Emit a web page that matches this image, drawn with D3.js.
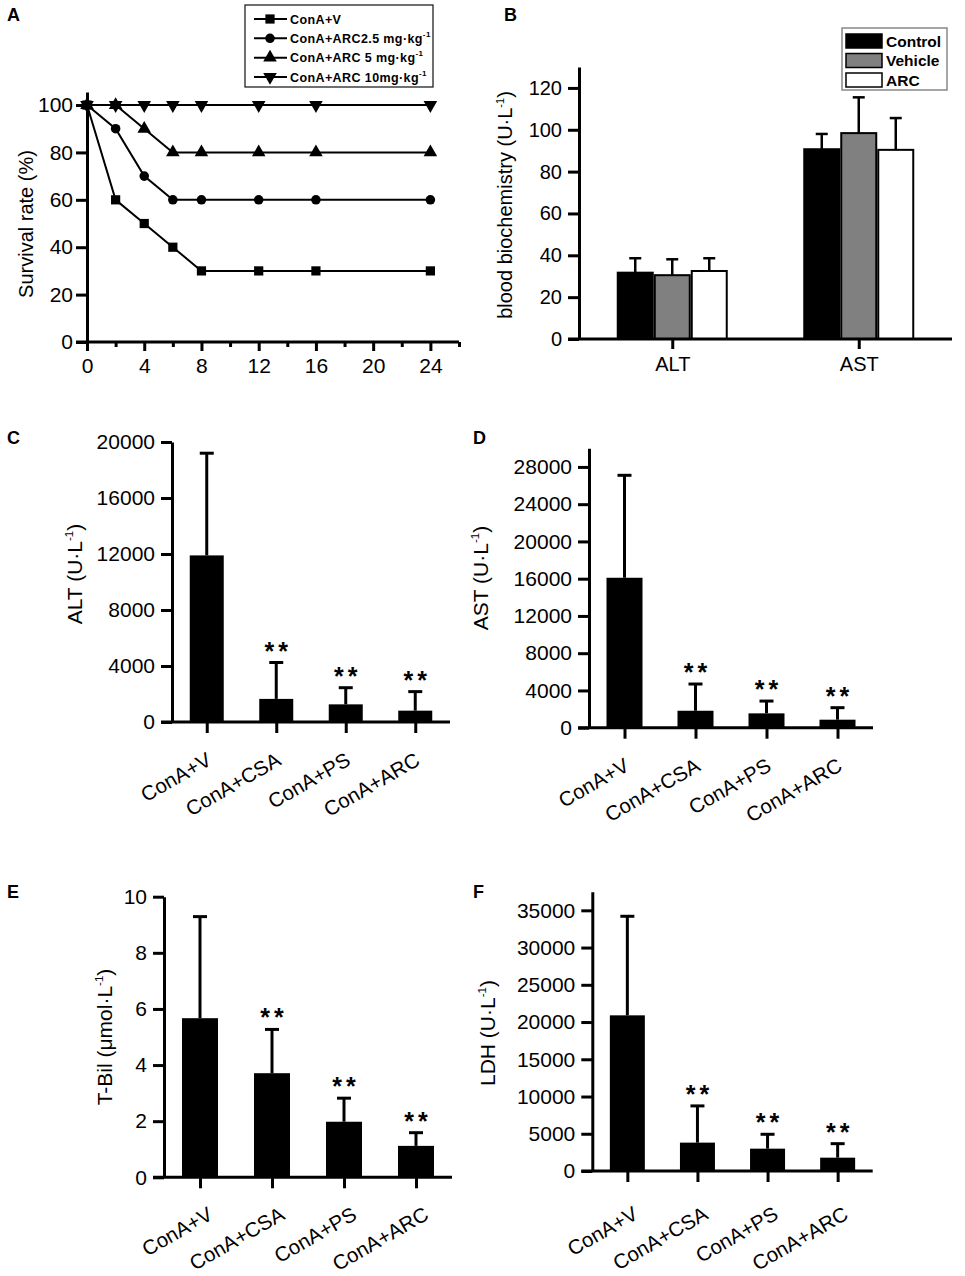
<!DOCTYPE html>
<html>
<head>
<meta charset="utf-8">
<script src="https://cdn.jsdelivr.net/npm/d3@7"></script>
<style>
  body { margin: 0; background: #fff; }
  svg text { font-family: "Liberation Sans", Arial, sans-serif; fill: #000; }
  .axis path, .axis line { stroke: #000; stroke-width: 3px; }
</style>
</head>
<body>
<svg id="fig" width="965" height="1276"></svg>
<script>
// ---- panel A: survival after ConA ----
var hours = [0, 2, 4, 6, 8, 12, 16, 24];
var survV = [100, 60, 50, 40, 30, 30, 30, 30];
var surv25 = [100, 90, 70, 60, 60, 60, 60, 60];
var surv5 = [100, 100, 90, 80, 80, 80, 80, 80];
var surv10 = [100, 100, 100, 100, 100, 100, 100, 100];
var survNames = ["ConA+V", "ConA+ARC2.5 mg·kg", "ConA+ARC 5 mg·kg", "ConA+ARC 10mg·kg"];
var survTicks = [0, 20, 40, 60, 80, 100];
var hourTicks = [0, 4, 8, 12, 16, 20, 24];
var hourMinor = [2, 6, 10, 14, 18, 22, 26];

// ---- panel B: normal mice ----
var bioCats = ["ALT", "AST"];
var bioGroups = ["Control", "Vehicle", "ARC"];
var controlMean = [31.7, 90.7], controlSD = [6.9, 7.3];
var vehicleMean = [30.5, 98.4], vehicleSD = [7.6, 17.1];
var arcMean = [32.5, 90.4], arcSD = [6.1, 15.2];
var bioTicks = [0, 20, 40, 60, 80, 100, 120];

// ---- panels C-F ----
var treatments = ["ConA+V", "ConA+CSA", "ConA+PS", "ConA+ARC"];
var altMean = [11900, 1650, 1260, 810], altSD = [7300, 2600, 1190, 1360];
var altTicks = [0, 4000, 8000, 12000, 16000, 20000];
var astMean = [16100, 1820, 1540, 860], astSD = [11000, 2870, 1320, 1290];
var astTicks = [0, 4000, 8000, 12000, 16000, 20000, 24000, 28000];
var tbilMean = [5.67, 3.71, 1.98, 1.12], tbilSD = [3.62, 1.56, 0.84, 0.47];
var tbilTicks = [0, 2, 4, 6, 8, 10];
var ldhMean = [20900, 3810, 3000, 1790], ldhSD = [13300, 4930, 1930, 1880];
var ldhTicks = [0, 5000, 10000, 15000, 20000, 25000, 30000, 35000];

var svg = d3.select("#fig");
var plain = d3.format("d");

function letter(t, x, y) {
    svg.append("text").attr("x", x).attr("y", y)
        .attr("font-size", 18).attr("font-weight", "bold").text(t);
}

// rotated axis title with "-1" superscript
function yTitle(x, y, size, main, sup) {
    var t = svg.append("text")
        .attr("transform", "translate(" + x + "," + y + ") rotate(-90)")
        .attr("text-anchor", "middle").attr("font-size", size);
    t.append("tspan").text(main);
    if (sup) {
        t.append("tspan").attr("font-size", size * 0.55).attr("dy", -size * 0.42).text(sup);
        t.append("tspan").attr("dy", size * 0.42).text(")");
    }
}

function styleAxis(g, size) {
    g.attr("class", "axis").attr("font-size", size).attr("font-family", null);
    g.selectAll("text").attr("fill", "#000");
}

// ================= A =================
(function() {
    var x = d3.scaleLinear().domain([0, 26]).range([87, 459]);
    var y = d3.scaleLinear().domain([0, 105.5]).range([342, 92]);
    var g = svg.append("g");

    g.append("line").attr("x1", 76).attr("x2", 459).attr("y1", y(0)).attr("y2", y(0))
        .attr("stroke", "#000").attr("stroke-width", 3);
    var ya = g.append("g").attr("transform", "translate(" + x(0) + ",0)")
        .call(d3.axisLeft(y).tickValues(survTicks).tickSize(11).tickSizeOuter(0).tickPadding(3));
    styleAxis(ya, 21);
    var xa = g.append("g").attr("transform", "translate(0," + y(0) + ")")
        .call(d3.axisBottom(x).tickValues(hourTicks).tickSize(9).tickPadding(7));
    xa.select(".domain").remove();
    styleAxis(xa, 21);
    var xm = g.append("g").attr("transform", "translate(0," + y(0) + ")")
        .call(d3.axisBottom(x).tickValues(hourMinor).tickSize(5).tickFormat(""));
    xm.select(".domain").remove();
    styleAxis(xm, 21);

    var series = [survV, surv25, surv5, surv10];
    var shapes = [
        d3.symbol().type(d3.symbolSquare).size(85),
        d3.symbol().type(d3.symbolCircle).size(72),
        d3.symbol().type(d3.symbolTriangle).size(80),
        d3.symbol().type(d3.symbolTriangle).size(80)
    ];
    var line = d3.line().x(function(d, i) { return x(hours[i]); }).y(function(d) { return y(d); });

    series.forEach(function(s, k) {
        g.append("path").datum(s).attr("d", line)
            .attr("fill", "none").attr("stroke", "#000").attr("stroke-width", 2);
        g.selectAll(".m" + k).data(s).enter().append("path")
            .attr("d", shapes[k])
            .attr("transform", function(d, i) {
                return "translate(" + x(hours[i]) + "," + y(d) + ")" + (k === 3 ? " rotate(180)" : "");
            })
            .attr("fill", "#000");
    });

    yTitle(33, 224, 20, "Survival rate (%)");

    // legend
    var lg = svg.append("g");
    lg.append("rect").attr("x", 245).attr("y", 5).attr("width", 188).attr("height", 82)
        .attr("fill", "#fff").attr("stroke", "#222").attr("stroke-width", 1.3);
    var ly = d3.scalePoint().domain(survNames).range([19, 77]);
    survNames.forEach(function(n, k) {
        var yy = ly(n);
        lg.append("line").attr("x1", 254).attr("x2", 287).attr("y1", yy).attr("y2", yy)
            .attr("stroke", "#000").attr("stroke-width", 2);
        lg.append("path").attr("d", shapes[k])
            .attr("transform", "translate(270," + yy + ")" + (k === 3 ? " rotate(180)" : ""));
        var t = lg.append("text").attr("x", 290).attr("y", yy + 4.5)
            .attr("font-size", 12.5).attr("font-weight", "bold").attr("letter-spacing", 0.4);
        t.append("tspan").text(n);
        if (k > 0) t.append("tspan").attr("font-size", 8).attr("dy", -6).text("-1");
    });
    letter("A", 7, 21);
})();

// ================= B =================
(function() {
    var means = [controlMean, vehicleMean, arcMean];
    var sds = [controlSD, vehicleSD, arcSD];
    var fills = ["#000", "#808080", "#fff"];
    var x0 = d3.scalePoint().domain(bioCats).range([579, 952]).padding(0.5);
    var x1 = d3.scaleBand().domain(bioGroups).range([-55.5, 55.5]);
    var y = d3.scaleLinear().domain([0, 130]).range([339, 67]);
    var g = svg.append("g");

    bioGroups.forEach(function(grp, k) {
        g.selectAll(".b" + k).data(means[k]).enter().append("rect")
            .attr("x", function(d, i) { return x0(bioCats[i]) + x1(grp) + 1; })
            .attr("y", function(d) { return y(d); })
            .attr("width", x1.bandwidth() - 2)
            .attr("height", function(d) { return y(0) - y(d); })
            .attr("fill", fills[k]).attr("stroke", "#000").attr("stroke-width", 2);
        means[k].forEach(function(m, i) {
            var cx = x0(bioCats[i]) + x1(grp) + x1.bandwidth() / 2;
            g.append("line").attr("x1", cx).attr("x2", cx).attr("y1", y(m)).attr("y2", y(m + sds[k][i]))
                .attr("stroke", "#000").attr("stroke-width", 2.5);
            g.append("line").attr("x1", cx - 6).attr("x2", cx + 6)
                .attr("y1", y(m + sds[k][i])).attr("y2", y(m + sds[k][i]))
                .attr("stroke", "#000").attr("stroke-width", 2.5);
        });
    });

    g.append("line").attr("x1", 568).attr("x2", 952).attr("y1", y(0)).attr("y2", y(0))
        .attr("stroke", "#000").attr("stroke-width", 3);
    var ya = g.append("g").attr("transform", "translate(579,0)")
        .call(d3.axisLeft(y).tickValues(bioTicks).tickSize(11).tickSizeOuter(0).tickPadding(6));
    styleAxis(ya, 20);
    var xa = g.append("g").attr("transform", "translate(0," + y(0) + ")")
        .call(d3.axisBottom(x0).tickSize(10).tickPadding(8));
    xa.select(".domain").remove();
    styleAxis(xa, 20);

    yTitle(512, 205, 20, "blood biochemistry (U·L", "-1");

    var lg = svg.append("g");
    lg.append("rect").attr("x", 842).attr("y", 28).attr("width", 105).attr("height", 62)
        .attr("fill", "#fff").attr("stroke", "#888").attr("stroke-width", 1.5);
    var ly = d3.scalePoint().domain(bioGroups).range([41, 80]);
    bioGroups.forEach(function(grp, k) {
        lg.append("rect").attr("x", 846).attr("y", ly(grp) - 7).attr("width", 36).attr("height", 14)
            .attr("fill", fills[k]).attr("stroke", "#000").attr("stroke-width", 1.5);
        lg.append("text").attr("x", 886).attr("y", ly(grp) + 5.5)
            .attr("font-size", 15.5).attr("font-weight", "bold").text(grp);
    });
    letter("B", 504, 21);
})();

// ================= C-F =================
function barPanel(o) {
    var y = d3.scaleLinear().domain([0, o.max]).range([o.y0, o.yTop]);
    var x = d3.scalePoint().domain(treatments).range([o.left, o.right]).padding(0.5);
    var g = svg.append("g");

    g.selectAll("rect").data(o.mean).enter().append("rect")
        .attr("x", function(d, i) { return x(treatments[i]) - o.barW / 2; })
        .attr("y", function(d) { return y(d); })
        .attr("width", o.barW)
        .attr("height", function(d) { return o.y0 - y(d); })
        .attr("fill", "#000");

    o.mean.forEach(function(m, i) {
        var cx = x(treatments[i]), top = y(m + o.sd[i]);
        g.append("line").attr("x1", cx).attr("x2", cx).attr("y1", y(m)).attr("y2", top)
            .attr("stroke", "#000").attr("stroke-width", 3);
        g.append("line").attr("x1", cx - 7).attr("x2", cx + 7).attr("y1", top).attr("y2", top)
            .attr("stroke", "#000").attr("stroke-width", 3);
        if (i > 0) {
            g.append("text").attr("x", cx + 2).attr("y", top - 3)
                .attr("text-anchor", "middle").attr("font-size", 25)
                .attr("font-weight", "bold").attr("letter-spacing", 4)
                .attr("fill", "#222")
                .text("**");
        }
    });

    g.append("line").attr("x1", o.left - 11).attr("x2", o.right).attr("y1", o.y0).attr("y2", o.y0)
        .attr("stroke", "#000").attr("stroke-width", 3);
    var ya = g.append("g").attr("transform", "translate(" + o.left + ",0)")
        .call(d3.axisLeft(y).tickValues(o.ticks).tickFormat(plain)
            .tickSize(11).tickSizeOuter(0).tickPadding(6));
    styleAxis(ya, 21);
    var xa = g.append("g").attr("transform", "translate(0," + o.y0 + ")")
        .call(d3.axisBottom(x).tickSize(11).tickFormat(""));
    xa.select(".domain").remove();
    styleAxis(xa, 21);

    g.selectAll(".cat").data(treatments).enter().append("text")
        .attr("transform", function(d) {
            return "translate(" + (x(d) + o.dx) + "," + (o.y0 + o.dy) + ") rotate(-30)";
        })
        .attr("text-anchor", "end").attr("font-size", 20.5).text(function(d) { return d; });

    yTitle(o.tx, o.ty, 21, o.title, "-1");
    letter(o.letter, o.lx, o.ly);
}

barPanel({ mean: altMean, sd: altSD, ticks: altTicks, max: 20000, left: 172, right: 450,
    y0: 722, yTop: 442, barW: 34, dx: 6, dy: 42, title: "ALT (U·L", tx: 82, ty: 574,
    letter: "C", lx: 7, ly: 444 });
barPanel({ mean: astMean, sd: astSD, ticks: astTicks, max: 30000, left: 589, right: 873,
    y0: 727.7, yTop: 448.3, barW: 36, dx: 6, dy: 42, title: "AST (U·L", tx: 488, ty: 578,
    letter: "D", lx: 473, ly: 444 });
barPanel({ mean: tbilMean, sd: tbilSD, ticks: tbilTicks, max: 10, left: 164, right: 452,
    y0: 1177.3, yTop: 896.7, barW: 36, dx: 14, dy: 41, title: "T-Bil (μmol·L", tx: 112, ty: 1037,
    letter: "E", lx: 7, ly: 898 });
barPanel({ mean: ldhMean, sd: ldhSD, ticks: ldhTicks, max: 37500, left: 592.3, right: 872.7,
    y0: 1171, yTop: 891.7, barW: 35, dx: 12, dy: 47, title: "LDH (U·L", tx: 495, ty: 1033,
    letter: "F", lx: 473, ly: 898 });
</script>
</body>
</html>
